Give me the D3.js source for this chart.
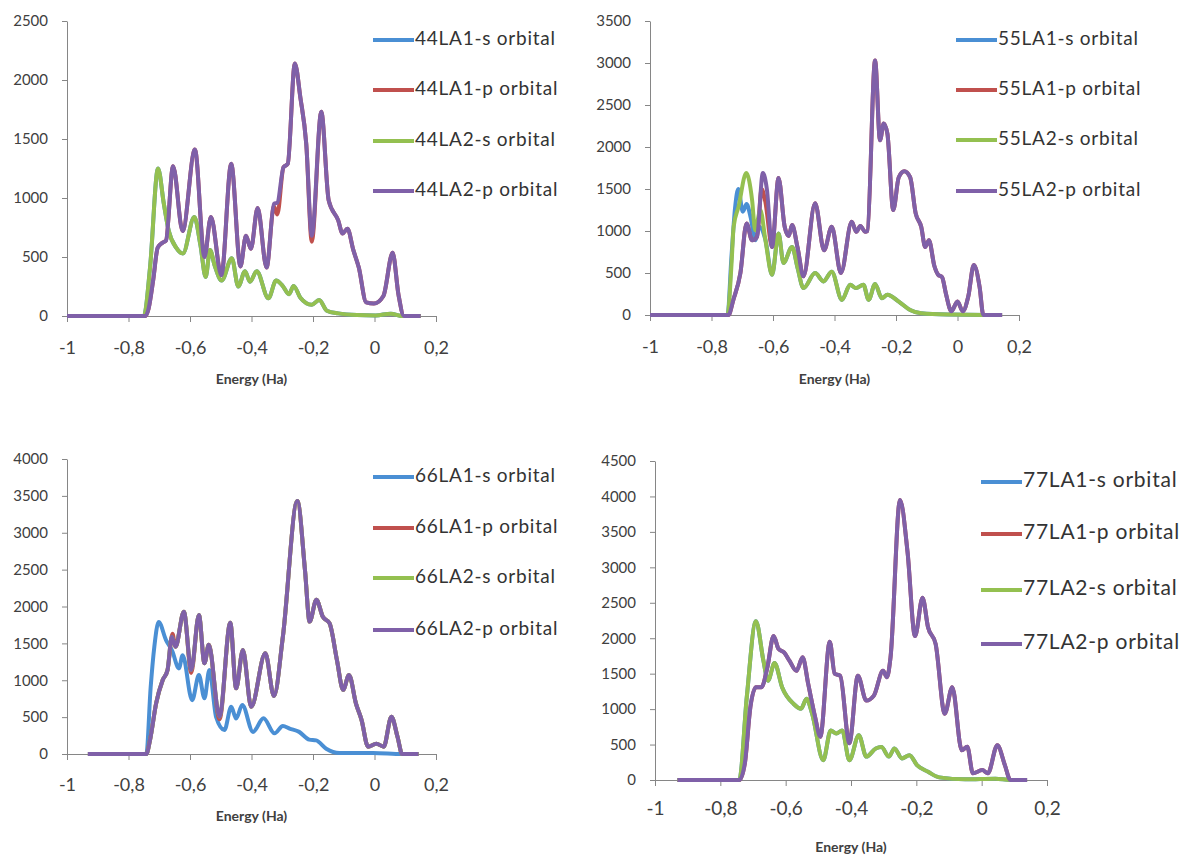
<!DOCTYPE html>
<html>
<head>
<meta charset="utf-8">
<script src="https://cdn.jsdelivr.net/npm/d3@7"></script>
<style>
  body { margin: 0; background: #fff; }
  text { font-family: Lato, "Open Sans", sans-serif; }
  .axis path, .axis line { stroke: #868686; }
  .axis text { fill: #404040; }
</style>
</head>
<body>
<svg id="chart" width="1183" height="856"></svg>
<script>
// ---- data (energy in Ha, density of states) ----
var energyTicks = [-1, -0.8, -0.6, -0.4, -0.2, 0, 0.2];
var ticks2500 = [0, 500, 1000, 1500, 2000, 2500];
var ticks3500 = [0, 500, 1000, 1500, 2000, 2500, 3000, 3500];
var ticks4000 = [0, 500, 1000, 1500, 2000, 2500, 3000, 3500, 4000];
var ticks4500 = [0, 500, 1000, 1500, 2000, 2500, 3000, 3500, 4000, 4500];
var orbitalNames = ["LA1-s orbital", "LA1-p orbital", "LA2-s orbital", "LA2-p orbital"];
var orbitalColors = ["#4a8fd4", "#c0504d", "#94c050", "#7f60a8"];

// 44
var dos44_LA2s = [[-1,0],[-0.75,0],[-0.73,410],[-0.704,1250],[-0.685,950],[-0.669,720],[-0.645,580],[-0.623,530],[-0.586,840],[-0.566,600],[-0.549,330],[-0.535,560],[-0.52,430],[-0.497,300],[-0.464,490],[-0.443,250],[-0.421,380],[-0.405,290],[-0.383,380],[-0.345,150],[-0.32,300],[-0.3,260],[-0.278,185],[-0.263,255],[-0.241,155],[-0.204,95],[-0.18,135],[-0.155,45],[-0.118,22],[-0.057,8],[0.004,5],[0.053,20],[0.09,0],[0.15,0]];
var dos44_LA1s = dos44_LA2s; // lies under LA2-s
var dos44_LA2p = [[-1,0],[-0.745,0],[-0.735,60],[-0.72,300],[-0.705,580],[-0.69,620],[-0.678,640],[-0.655,1270],[-0.624,720],[-0.584,1410],[-0.553,500],[-0.532,840],[-0.498,345],[-0.466,1290],[-0.436,420],[-0.418,680],[-0.402,570],[-0.38,915],[-0.351,410],[-0.327,950],[-0.316,960],[-0.296,1260],[-0.282,1290],[-0.259,2140],[-0.241,1850],[-0.222,1460],[-0.204,680],[-0.173,1730],[-0.149,980],[-0.118,810],[-0.104,700],[-0.088,740],[-0.069,560],[-0.051,410],[-0.027,115],[-0.002,105],[0.029,170],[0.059,535],[0.078,180],[0.096,0],[0.15,0]];
var dos44_LA1p = [[-1,0],[-0.745,0],[-0.735,60],[-0.72,300],[-0.705,580],[-0.69,620],[-0.678,640],[-0.655,1270],[-0.624,720],[-0.584,1410],[-0.553,500],[-0.532,840],[-0.498,345],[-0.466,1290],[-0.436,420],[-0.418,680],[-0.402,570],[-0.38,915],[-0.351,410],[-0.327,930],[-0.316,860],[-0.296,1260],[-0.282,1290],[-0.259,2140],[-0.241,1850],[-0.222,1460],[-0.204,630],[-0.173,1730],[-0.149,980],[-0.118,810],[-0.104,700],[-0.088,740],[-0.069,560],[-0.051,410],[-0.027,115],[-0.002,105],[0.029,170],[0.059,535],[0.078,180],[0.096,0],[0.15,0]];

// 55
var dos55_LA1s = [[-1,0],[-0.748,0],[-0.735,700],[-0.723,1290],[-0.713,1500],[-0.698,1230],[-0.686,1320],[-0.672,1150],[-0.658,890],[-0.645,1050],[-0.625,900],[-0.603,480],[-0.582,970],[-0.566,620],[-0.538,810],[-0.52,560],[-0.501,320],[-0.463,500],[-0.436,400],[-0.409,515],[-0.376,180],[-0.349,360],[-0.33,320],[-0.306,360],[-0.289,180],[-0.268,370],[-0.246,200],[-0.228,240],[-0.191,160],[-0.154,60],[-0.118,20],[-0.032,5],[0.09,0],[0.145,0]];
var dos55_LA2s = [[-1,0],[-0.748,0],[-0.735,600],[-0.728,1050],[-0.712,1290],[-0.687,1690],[-0.668,1370],[-0.658,1010],[-0.641,1250],[-0.625,900],[-0.603,480],[-0.582,970],[-0.566,620],[-0.538,810],[-0.52,560],[-0.501,320],[-0.463,500],[-0.436,400],[-0.409,515],[-0.376,180],[-0.349,360],[-0.33,320],[-0.306,360],[-0.289,180],[-0.268,370],[-0.246,200],[-0.228,240],[-0.191,160],[-0.154,60],[-0.118,20],[-0.032,5],[0.09,0],[0.145,0]];
var dos55_LA2p = [[-1,0],[-0.745,0],[-0.729,180],[-0.706,500],[-0.686,1090],[-0.668,890],[-0.652,930],[-0.633,1690],[-0.62,1500],[-0.603,810],[-0.582,1630],[-0.562,1050],[-0.549,940],[-0.538,1070],[-0.52,800],[-0.501,460],[-0.463,1330],[-0.434,770],[-0.409,1050],[-0.379,500],[-0.344,1110],[-0.329,990],[-0.316,1060],[-0.3,990],[-0.293,1000],[-0.268,3030],[-0.252,2080],[-0.24,2280],[-0.228,2160],[-0.209,1250],[-0.191,1640],[-0.173,1710],[-0.154,1640],[-0.136,1210],[-0.118,1050],[-0.105,810],[-0.093,890],[-0.075,580],[-0.063,480],[-0.05,450],[-0.038,260],[-0.02,45],[0,160],[0.017,45],[0.035,220],[0.053,595],[0.072,330],[0.084,0],[0.145,0]];
var dos55_LA1p = [[-1,0],[-0.745,0],[-0.729,180],[-0.706,500],[-0.686,1090],[-0.668,890],[-0.652,930],[-0.637,1500],[-0.625,1350],[-0.603,810],[-0.582,1630],[-0.562,1050],[-0.549,940],[-0.538,1070],[-0.52,800],[-0.501,460],[-0.463,1330],[-0.434,770],[-0.409,1050],[-0.379,500],[-0.344,1110],[-0.329,990],[-0.316,1060],[-0.3,990],[-0.293,1000],[-0.268,3030],[-0.252,2080],[-0.24,2280],[-0.228,2160],[-0.209,1250],[-0.191,1640],[-0.173,1710],[-0.154,1640],[-0.136,1210],[-0.118,1050],[-0.105,810],[-0.093,890],[-0.075,580],[-0.063,480],[-0.05,450],[-0.038,260],[-0.02,45],[0,160],[0.017,45],[0.035,220],[0.053,595],[0.072,330],[0.084,0],[0.145,0]];

// 66
var dos66_LA1s = [[-0.932,0],[-0.742,0],[-0.728,900],[-0.716,1455],[-0.702,1790],[-0.678,1545],[-0.658,1400],[-0.636,1160],[-0.624,1340],[-0.593,730],[-0.571,1070],[-0.553,755],[-0.537,1140],[-0.515,500],[-0.488,325],[-0.466,640],[-0.45,480],[-0.43,665],[-0.395,300],[-0.361,485],[-0.325,280],[-0.298,380],[-0.276,345],[-0.245,300],[-0.212,195],[-0.19,185],[-0.157,72],[-0.114,14],[-0.005,14],[0.09,0],[0.143,0]];
var dos66_LA2p = [[-0.932,0],[-0.742,0],[-0.73,190],[-0.71,690],[-0.689,1000],[-0.673,1140],[-0.659,1590],[-0.647,1455],[-0.62,1930],[-0.596,1140],[-0.571,1885],[-0.553,1230],[-0.539,1480],[-0.504,505],[-0.469,1780],[-0.45,890],[-0.428,1410],[-0.401,640],[-0.355,1365],[-0.327,785],[-0.298,1590],[-0.251,3430],[-0.226,2490],[-0.211,1795],[-0.189,2090],[-0.168,1860],[-0.146,1770],[-0.122,1270],[-0.102,870],[-0.083,1070],[-0.06,680],[-0.042,460],[-0.021,100],[0.006,140],[0.03,100],[0.055,505],[0.075,230],[0.09,0],[0.143,0]];
var dos66_LA1p = [[-0.932,0],[-0.742,0],[-0.73,190],[-0.71,690],[-0.689,1000],[-0.673,1140],[-0.657,1630],[-0.647,1455],[-0.62,1930],[-0.596,1100],[-0.571,1885],[-0.553,1230],[-0.539,1480],[-0.504,470],[-0.469,1780],[-0.45,890],[-0.428,1410],[-0.401,640],[-0.355,1365],[-0.327,785],[-0.298,1590],[-0.251,3430],[-0.226,2490],[-0.211,1795],[-0.189,2090],[-0.168,1860],[-0.146,1770],[-0.122,1270],[-0.102,870],[-0.083,1070],[-0.06,680],[-0.042,460],[-0.021,100],[0.006,140],[0.03,100],[0.055,505],[0.075,230],[0.09,0],[0.143,0]];
var dos66_LA2s = dos66_LA2p; // hidden under LA2-p

// 77
var dos77_LA2s = [[-0.931,0],[-0.742,0],[-0.719,1170],[-0.691,2240],[-0.668,1680],[-0.654,1400],[-0.634,1650],[-0.611,1310],[-0.576,1075],[-0.553,1005],[-0.536,1145],[-0.519,935],[-0.485,280],[-0.462,700],[-0.445,655],[-0.427,700],[-0.405,280],[-0.376,630],[-0.353,330],[-0.324,445],[-0.307,465],[-0.284,330],[-0.267,445],[-0.244,305],[-0.221,350],[-0.198,210],[-0.164,115],[-0.13,37],[-0.05,9],[0.042,19],[0.088,0],[0.139,0]];
var dos77_LA2p = [[-0.931,0],[-0.742,0],[-0.725,235],[-0.708,1030],[-0.691,1310],[-0.674,1310],[-0.656,1590],[-0.637,2030],[-0.622,1850],[-0.605,1800],[-0.588,1680],[-0.567,1540],[-0.548,1730],[-0.531,1355],[-0.51,890],[-0.494,610],[-0.465,1950],[-0.45,1500],[-0.433,1470],[-0.405,520],[-0.379,1470],[-0.353,1120],[-0.33,1190],[-0.302,1540],[-0.29,1450],[-0.279,1730],[-0.25,3950],[-0.227,3220],[-0.204,2030],[-0.181,2570],[-0.164,2150],[-0.141,1920],[-0.113,935],[-0.09,1310],[-0.061,420],[-0.044,470],[-0.027,95],[0.002,140],[0.019,95],[0.048,490],[0.071,210],[0.088,0],[0.139,0]];
var dos77_LA1s = dos77_LA2s; // hidden
var dos77_LA1p = dos77_LA2p; // hidden

// ---- layout of the four panels ----
var panels = [
    { prefix: "44", yTicks: ticks2500, series: [dos44_LA1s, dos44_LA1p, dos44_LA2s, dos44_LA2p],
      x0: 67, x1: 436, yTop: 21, yBot: 316, xFont: 18, yFont: 15, xPad: 19, titleY: 380,
      legX: 373, legY: [40, 90, 141, 191], legFont: 19 },
    { prefix: "55", yTicks: ticks3500, series: [dos55_LA1s, dos55_LA1p, dos55_LA2s, dos55_LA2p],
      x0: 650, x1: 1019, yTop: 21, yBot: 315, xFont: 18, yFont: 15, xPad: 19, titleY: 380,
      legX: 956, legY: [40, 90, 140, 191], legFont: 19 },
    { prefix: "66", yTicks: ticks4000, series: [dos66_LA1s, dos66_LA1p, dos66_LA2s, dos66_LA2p],
      x0: 67, x1: 436, yTop: 459, yBot: 754, xFont: 18, yFont: 15, xPad: 18, titleY: 817,
      legX: 373, legY: [477, 528, 578, 630], legFont: 19 },
    { prefix: "77", yTicks: ticks4500, series: [dos77_LA1s, dos77_LA1p, dos77_LA2s, dos77_LA2p],
      x0: 655, x1: 1047, yTop: 461, yBot: 780, xFont: 19, yFont: 15, xPad: 16, titleY: 848,
      legX: 981, legY: [482, 534, 590, 644], legFont: 21 }
];

var fmt = d3.formatLocale({ decimal: ",", thousands: "", grouping: [3], currency: ["", ""], minus: "-" }).format("");

var svg = d3.select("#chart");

panels.forEach(function(p) {
    var x = d3.scaleLinear().domain([-1, 0.2]).range([p.x0, p.x1]);
    var y = d3.scaleLinear().domain([0, d3.max(p.yTicks)]).range([p.yBot, p.yTop]);
    var g = svg.append("g");

    // y axis
    var ya = g.append("g")
        .attr("class", "axis")
        .attr("transform", "translate(" + p.x0 + ",0)")
        .call(d3.axisLeft(y).tickValues(p.yTicks).tickFormat(fmt).tickSize(5).tickSizeOuter(0).tickPadding(14));
    ya.selectAll("text").style("font-size", p.yFont + "px");

    // x axis sits on the zero line
    var xa = g.append("g")
        .attr("class", "axis")
        .attr("transform", "translate(0," + p.yBot + ")")
        .call(d3.axisBottom(x).tickValues(energyTicks).tickFormat(fmt).tickSize(6).tickSizeOuter(0).tickPadding(p.xPad));
    xa.selectAll("text").style("font-size", p.xFont + "px");

    g.append("text")
        .attr("x", x(-0.4))
        .attr("y", p.titleY)
        .attr("text-anchor", "middle")
        .attr("dominant-baseline", "middle")
        .style("font-size", "14px")
        .style("font-weight", "bold")
        .style("fill", "#404040")
        .text("Energy (Ha)");

    var line = d3.line()
        .x(function(d) { return x(d[0]); })
        .y(function(d) { return y(d[1]); })
        .curve(d3.curveMonotoneX);

    // excel draws series in order, last on top
    p.series.forEach(function(s, i) {
        g.append("path")
            .datum(s)
            .attr("d", line)
            .attr("fill", "none")
            .attr("stroke", orbitalColors[i])
            .attr("stroke-width", 4)
            .attr("stroke-linejoin", "round");
    });

    // legend
    orbitalNames.forEach(function(name, i) {
        g.append("line")
            .attr("x1", p.legX).attr("x2", p.legX + 41)
            .attr("y1", p.legY[i]).attr("y2", p.legY[i])
            .attr("stroke", orbitalColors[i])
            .attr("stroke-width", 4);
        g.append("text")
            .attr("x", p.legX + 42)
            .attr("y", p.legY[i])
            .attr("dominant-baseline", "middle")
            .style("font-size", p.legFont + "px")
            .style("letter-spacing", "0.75px")
            .style("fill", "#333")
            .text(p.prefix + name);
    });
});
</script>
</body>
</html>
